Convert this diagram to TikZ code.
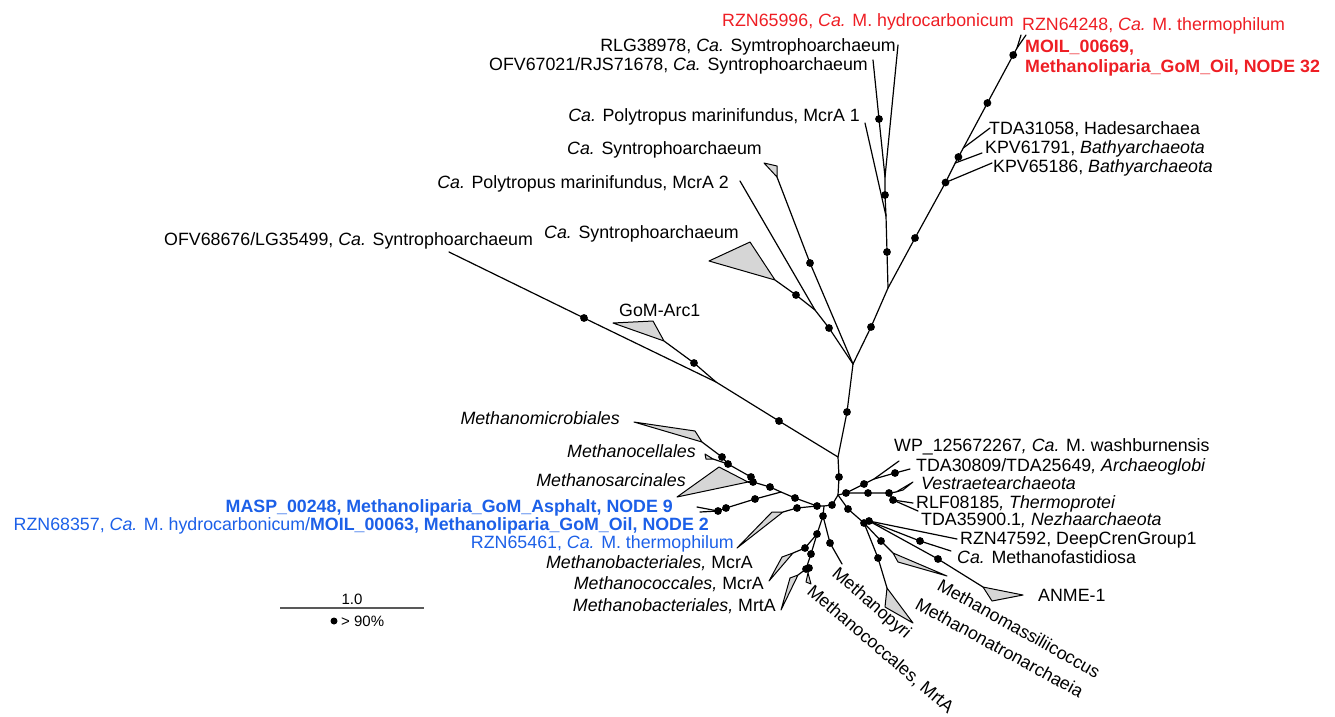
\documentclass[tikz,border=0pt]{standalone}
\usepackage{fontspec}
\setmainfont{Liberation Sans}
\definecolor{myred}{RGB}{238,30,36}
\definecolor{myblue}{RGB}{28,96,232}
\definecolor{trigray}{RGB}{214,214,214}
\newcommand\lblfont{\fontsize{17.8}{20}\selectfont}
\tikzset{
  br/.style={line width=1.2pt, line cap=round, line join=round},
  tri/.style={draw, fill=trigray, line width=1pt, line join=round},
  lbl/.style={inner sep=0pt, font=\lblfont},
  dotfill/.style={fill=black},
}
\newcommand\dotat[1]{\fill[dotfill] (#1) circle[radius=3.9];}
\begin{document}
\begin{tikzpicture}[x=1pt,y=-1pt]
\useasboundingbox (0,0) rectangle (1335,716);
% ---------- coordinates ----------
% spine
\coordinate (F1) at (853,364);
\coordinate (s1) at (847,412);
\coordinate (J) at (838,457);
\coordinate (s2) at (839,477);
\coordinate (H0) at (838,495);
% upper left
\coordinate (q1) at (829,328);
\coordinate (Q) at (815,310);
\coordinate (mA2) at (740,181);
\coordinate (bt1) at (796,295);
\coordinate (btA) at (775,280);
\coordinate (btB) at (750,242);
\coordinate (btC) at (709,261);
\coordinate (st1) at (810,263);
\coordinate (stA) at (777,177);
\coordinate (stB) at (777,166);
\coordinate (stC) at (764,163);
% upper right
\coordinate (u1) at (871,327);
\coordinate (A) at (888,288);
\coordinate (a1) at (887,252);
\coordinate (B) at (886,216);
\coordinate (mA1) at (865,123);
\coordinate (b1) at (885,195);
\coordinate (C) at (885,177);
\coordinate (c1) at (879,119);
\coordinate (oE) at (873,60);
\coordinate (rE) at (898,45);
\coordinate (r1) at (915,238);
\coordinate (k1) at (945.5,182.5);
\coordinate (k2j) at (955.2,163);
\coordinate (k2) at (958.4,157);
\coordinate (k3j) at (963.3,148);
\coordinate (k3) at (987.4,103);
\coordinate (k4) at (1013.2,55);
\coordinate (T) at (1017,48);
\coordinate (tE1) at (1021,35);
\coordinate (tE2) at (1026,35);
\coordinate (kpv5E) at (992,163);
\coordinate (kpv1E) at (982,153);
\coordinate (tdaE) at (990,128);
% long left branch
\coordinate (l1) at (779,421);
\coordinate (G) at (716,382);
\coordinate (o1) at (584,318);
\coordinate (oE2) at (449,252);
\coordinate (g1) at (694,363);
\coordinate (gA) at (664,341);
\coordinate (gB) at (653,321);
\coordinate (gC) at (613,323);
% right-up group
\coordinate (ru) at (846,493);
\coordinate (e1) at (864,484);
\coordinate (e2) at (874,479);
\coordinate (wpE) at (899,461);
\coordinate (e3) at (895,473);
\coordinate (tdE) at (910,469);
\coordinate (v1) at (868,493);
\coordinate (v2) at (889,493);
\coordinate (vA) at (896,492);
\coordinate (vB) at (913,482);
\coordinate (vC) at (903,490);
\coordinate (v3) at (893,500);
\coordinate (rlE) at (913,503);
\coordinate (nzE) at (918,511);
% right-down group
\coordinate (rd) at (848,509);
\coordinate (R1) at (864,523);
\coordinate (R2) at (869,521);
\coordinate (rzE) at (957,539);
\coordinate (m1) at (920,541);
\coordinate (mfE) at (951,551);
\coordinate (an1) at (938,559);
\coordinate (anA) at (983,587);
\coordinate (anB) at (1023,595);
\coordinate (anC) at (992,601);
\coordinate (mm1) at (881,541);
\coordinate (mmA) at (893,553);
\coordinate (mmB) at (898,562);
\coordinate (mmC) at (947,576);
\coordinate (nn1) at (878,558);
\coordinate (nnA) at (887,588);
\coordinate (nnB) at (885,607);
\coordinate (nnC) at (913,623);
% left group
\coordinate (Hl) at (832,505);
\coordinate (Dj) at (824,506);
\coordinate (L0) at (817,506);
\coordinate (lg1) at (795,498);
\coordinate (mpj) at (781,492);
\coordinate (lg2) at (770,487);
\coordinate (lg3) at (753,482);
\coordinate (lg3b) at (751,477);
\coordinate (lg4) at (728,464);
\coordinate (lg5) at (722,457);
\coordinate (miA) at (702,442);
\coordinate (miB) at (695,431);
\coordinate (miC) at (634,422);
\coordinate (ceA) at (713,459);
\coordinate (ceB) at (705,454);
\coordinate (ceC) at (706,459);
\coordinate (saA) at (748,482);
\coordinate (saB) at (719,467);
\coordinate (saC) at (677,497);
\coordinate (mp1) at (755,499);
\coordinate (mp2) at (726,508);
\coordinate (mp3) at (718,511);
\coordinate (maE) at (697,507);
\coordinate (n2E) at (700,512);
\coordinate (rz1) at (797,508);
\coordinate (rzA) at (783,512);
\coordinate (rzB) at (772,512);
\coordinate (rzC) at (737,548);
% down group
\coordinate (D) at (823,516);
\coordinate (d1) at (817,534);
\coordinate (d2) at (805,548);
\coordinate (bmA) at (793,553);
\coordinate (bmB) at (782,557);
\coordinate (bmC) at (769,581);
\coordinate (d3) at (811,554);
\coordinate (d4) at (806,569);
\coordinate (d4b) at (809,568);
\coordinate (brA) at (798,575);
\coordinate (brB) at (790,578);
\coordinate (brC) at (781,610);
\coordinate (ccA) at (808,573);
\coordinate (ccB) at (811,584);
\coordinate (ccC) at (806,582);
\coordinate (p1) at (830,543);
\coordinate (pE) at (842,564);
% scale bar
\coordinate (sb1) at (280,608);
\coordinate (sb2) at (424,608);
\coordinate (sbd) at (334,621);

% ---------- collapsed clades ----------
\draw[tri] (btA) -- (btB) -- (btC) -- cycle;
\draw[tri] (stA) -- (stB) -- (stC) -- cycle;
\draw[tri] (gA) -- (gB) -- (gC) -- cycle;
\draw[tri] (vA) -- (vB) -- (vC) -- cycle;
\draw[tri] (anA) -- (anB) -- (anC) -- cycle;
\draw[tri] (mmA) -- (mmB) -- (mmC) -- cycle;
\draw[tri] (nnA) -- (nnB) -- (nnC) -- cycle;
\draw[tri] (miA) -- (miB) -- (miC) -- cycle;
\draw[tri] (ceA) -- (ceB) -- (ceC) -- cycle;
\draw[tri] (saA) -- (saB) -- (saC) -- cycle;
\draw[tri] (rzA) -- (rzB) -- (rzC) -- cycle;
\draw[tri] (bmA) -- (bmB) -- (bmC) -- cycle;
\draw[tri] (brA) -- (brB) -- (brC) -- cycle;
\draw[tri] (ccA) -- (ccB) -- (ccC) -- cycle;

% ---------- branches ----------
\draw[br] (F1) -- (s1) -- (J) -- (s2) -- (H0);
\draw[br] (F1) -- (q1) -- (Q) -- (mA2);
\draw[br] (Q) -- (bt1) -- (btA);
\draw[br] (F1) -- (st1) -- (stA);
\draw[br] (F1) -- (u1) -- (A) -- (a1) -- (B) -- (b1) -- (C) -- (c1) -- (oE);
\draw[br] (B) -- (mA1);
\draw[br] (C) -- (rE);
\draw[br] (A) -- (r1) -- (k1) -- (k2j) -- (k2) -- (k3j) -- (k3) -- (k4) -- (T) -- (tE1);
\draw[br] (T) -- (tE2);
\draw[br] (k1) -- (kpv5E);
\draw[br] (k2j) -- (kpv1E);
\draw[br] (k3j) -- (tdaE);
\draw[br] (J) -- (l1) -- (G) -- (o1) -- (oE2);
\draw[br] (G) -- (g1) -- (gA);
\draw[br] (H0) -- (ru) -- (e1) -- (e2) -- (wpE);
\draw[br] (e2) -- (e3) -- (tdE);
\draw[br] (ru) -- (v1) -- (v2) -- (vA);
\draw[br] (v2) -- (v3) -- (rlE);
\draw[br] (v3) -- (nzE);
\draw[br] (H0) -- (rd) -- (R1) -- (R2) -- (rzE);
\draw[br] (R2) -- (m1) -- (mfE);
\draw[br] (R2) -- (an1) -- (anA);
\draw[br] (R1) -- (mm1) -- (mmA);
\draw[br] (R1) -- (nn1) -- (nnA);
\draw[br] (H0) -- (Hl) -- (Dj) -- (L0) -- (lg1) -- (mpj) -- (lg2) -- (lg3) -- (lg3b) -- (lg4) -- (lg5) -- (miA);
\draw[br] (lg3) -- (saA);
\draw[br] (lg4) -- (ceA);
\draw[br] (mpj) -- (mp1) -- (mp2) -- (mp3) -- (maE);
\draw[br] (mp3) -- (n2E);
\draw[br] (L0) -- (rz1) -- (rzA);
\draw[br] (Dj) -- (D) -- (d1) -- (d2) -- (bmA);
\draw[br] (d1) -- (d3) -- (d4) -- (brA);
\draw[br] (d4) -- (d4b) -- (ccA);
\draw[br] (D) -- (p1) -- (pE);

% ---------- support dots ----------
\foreach \n in {s1,s2,q1,bt1,st1,u1,a1,b1,c1,r1,k1,k2,k3,k4,l1,o1,g1,
  ru,e1,e3,v1,v2,v3,rd,R1,R2,m1,an1,mm1,nn1,Hl,L0,lg1,lg2,lg3,lg3b,lg4,lg5,
  mp1,mp2,mp3,rz1,D,d1,d2,d3,d4,d4b,p1}{\dotat{\n}}

% ---------- labels ----------
\node[lbl,anchor=base west,text=myred] (tRZN65996) at (722,26) {RZN65996, \textit{Ca.} M. hydrocarbonicum};
\node[lbl,anchor=base west,text=myred] (tRZN64248) at (1022,30) {RZN64248, \textit{Ca.} M. thermophilum};
\node[lbl,anchor=base west,text=myred,font=\lblfont\bfseries] (tMOIL669) at (1025,52) {MOIL\_00669,};
\node[lbl,anchor=base west,text=myred,font=\lblfont\bfseries] (tNODE32) at (1025,72) {Methanoliparia\_GoM\_Oil, NODE 32};
\node[lbl,anchor=base east] (tRLG) at (896,51) {RLG38978, \textit{Ca.} Symtrophoarchaeum};
\node[lbl,anchor=base east] (tOFV67021) at (868,70) {OFV67021/RJS71678, \textit{Ca.} Syntrophoarchaeum};
\node[lbl,anchor=base east] (tMcrA1) at (860,121) {\textit{Ca.} Polytropus marinifundus, McrA 1};
\node[lbl,anchor=base west] (tTDA31058) at (989,134) {TDA31058, Hadesarchaea};
\node[lbl,anchor=base west] (tKPV61791) at (985,153) {KPV61791, \textit{Bathyarchaeota}};
\node[lbl,anchor=base west] (tKPV65186) at (993,172) {KPV65186, \textit{Bathyarchaeota}};
\node[lbl,anchor=base east] (tSyn1) at (762,154) {\textit{Ca.} Syntrophoarchaeum};
\node[lbl,anchor=base east] (tMcrA2) at (729,188) {\textit{Ca.} Polytropus marinifundus, McrA 2};
\node[lbl,anchor=base west] (tOFV68676) at (164,245) {OFV68676/LG35499, \textit{Ca.} Syntrophoarchaeum};
\node[lbl,anchor=base east] (tSyn2) at (739,238) {\textit{Ca.} Syntrophoarchaeum};
\node[lbl,anchor=base west] (tGoM) at (619,316) {GoM-Arc1};
\node[lbl,anchor=base east] (tMicro) at (620,424) {\textit{Methanomicrobiales}};
\node[lbl,anchor=base east] (tCell) at (696,457) {\textit{Methanocellales}};
\node[lbl,anchor=base east] (tSarc) at (686,486) {\textit{Methanosarcinales}};
\node[lbl,anchor=base east,text=myblue,font=\lblfont\bfseries] (tMASP) at (673,512) {MASP\_00248, Methanoliparia\_GoM\_Asphalt, NODE 9};
\node[lbl,anchor=base east,text=myblue] (tNODE2) at (709,530) {RZN68357, \textit{Ca.} M. hydrocarbonicum/\textbf{MOIL\_00063, Methanoliparia\_GoM\_Oil, NODE 2}};
\node[lbl,anchor=base east,text=myblue] (tRZN65461) at (734,548) {RZN65461, \textit{Ca.} M. thermophilum};
\node[lbl,anchor=base east] (tMbMcrA) at (753,568) {\textit{Methanobacteriales,} McrA};
\node[lbl,anchor=base east] (tMcMcrA) at (764,589) {\textit{Methanococcales,} McrA};
\node[lbl,anchor=base east] (tMbMrtA) at (776,611) {\textit{Methanobacteriales,} MrtA};
\node[lbl,anchor=base west] (tWP) at (894,451) {WP\_125672267\textit{, Ca.} M. washburnensis};
\node[lbl,anchor=base west] (tTDA30809) at (916,471) {TDA30809/TDA25649\textit{, Archaeoglobi}};
\node[lbl,anchor=base west] (tVest) at (921,489) {\textit{Vestraetearchaeota}};
\node[lbl,anchor=base west] (tRLF) at (916,508) {RLF08185\textit{, Thermoprotei}};
\node[lbl,anchor=base west] (tTDA35900) at (921,525) {TDA35900.1\textit{, Nezhaarchaeota}};
\node[lbl,anchor=base west] (tRZN47592) at (960,544) {RZN47592, DeepCrenGroup1};
\node[lbl,anchor=base west] (tMfast) at (957,563) {\textit{Ca.} Methanofastidiosa};
\node[lbl,anchor=base west] (tANME) at (1038,601) {ANME-1};
\node[lbl,anchor=base west,rotate=-29.4] (tMmass) at (936,589) {Methanomassiliicoccus};
\node[lbl,anchor=base west,rotate=-28.7] (tMnatr) at (914,608) {Methanonatronarchaeia};
\node[lbl,anchor=base west,rotate=-41] (tMpyri) at (831,575) {Methanopyri};
\node[lbl,anchor=base west,rotate=-40.5] (tMcocc) at (806,593) {Methanococcales, MrtA};

% ---------- scale ----------
\draw[line width=1.3pt, draw=black!65] (sb1) -- (sb2);
\node[inner sep=0pt, font=\fontsize{15}{17}\selectfont, anchor=base] (tScale) at (352,604) {1.0};
\fill (sbd) circle[radius=3.5];
\node[inner sep=0pt, font=\fontsize{15}{17}\selectfont, anchor=west] (tSupport) at (341,621) {> 90\%};
\end{tikzpicture}
\end{document}
